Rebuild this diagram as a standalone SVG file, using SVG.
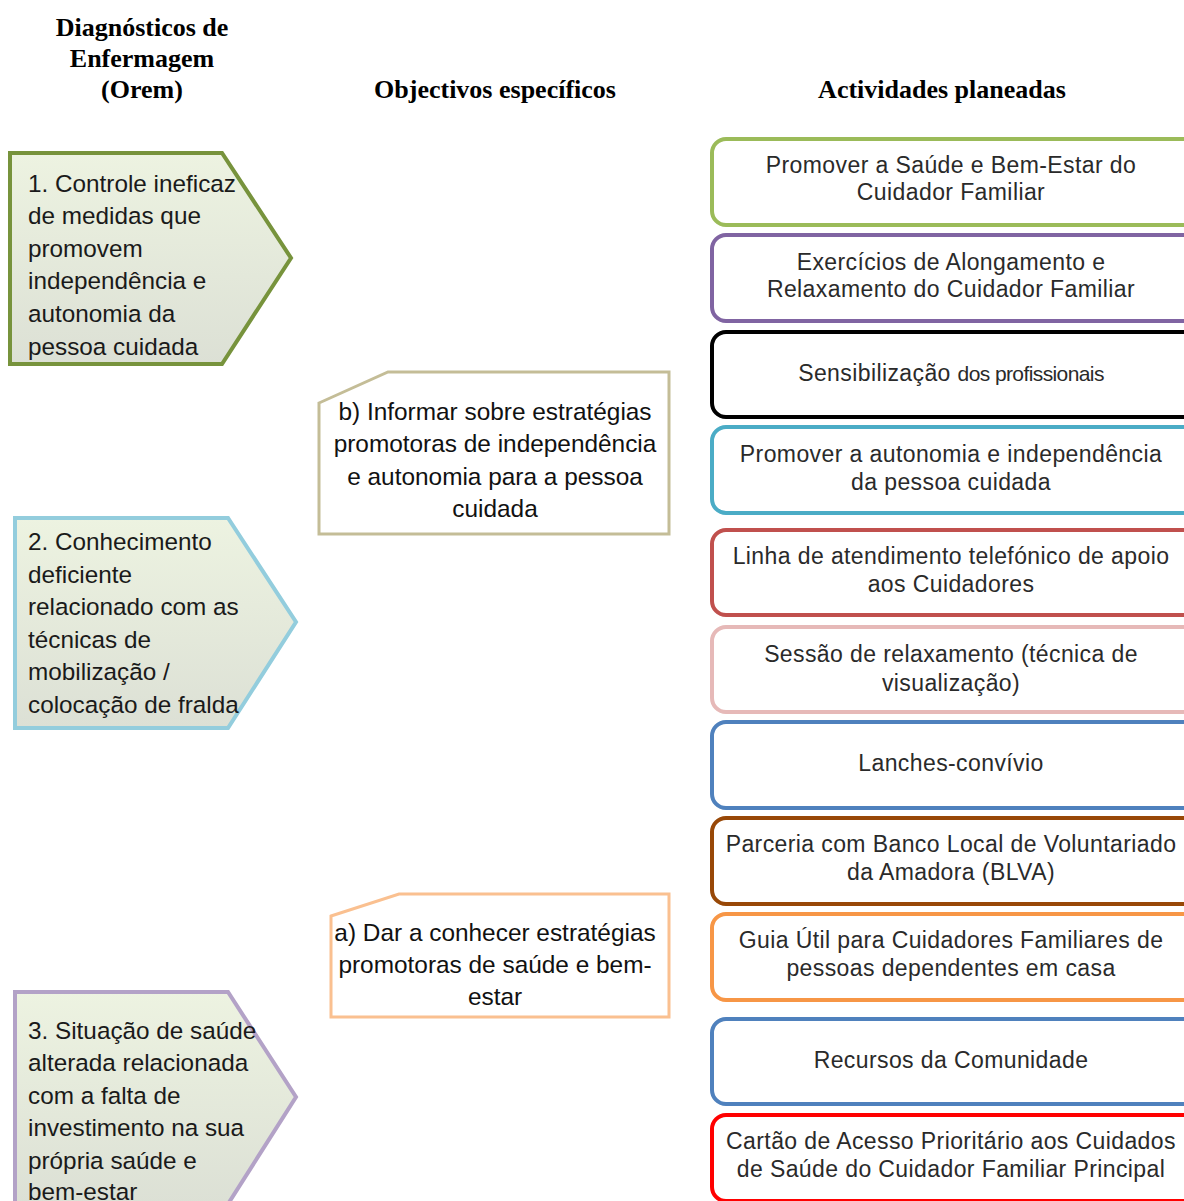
<svg xmlns="http://www.w3.org/2000/svg" width="1184" height="1201" viewBox="0 0 1184 1201">
<style>
.hdr{font-family:"Liberation Serif","Times New Roman",serif;font-weight:bold;font-size:26px;fill:#000;text-anchor:middle}
.lt{font-family:"Liberation Sans",Arial,sans-serif;font-size:24.3px;fill:#1a1a1a}
.ot{font-family:"Liberation Sans",Arial,sans-serif;font-size:24.4px;fill:#111;text-anchor:middle}
.rt{font-family:"Liberation Sans",Arial,sans-serif;font-size:23px;letter-spacing:0.4px;fill:#2a2a2a;text-anchor:middle}
.rb{fill:#fff;stroke-width:4}
.pent{stroke-width:4;fill:url(#pg)}
</style>
<defs>
<linearGradient id="pg" x1="0" y1="0" x2="0" y2="1">
<stop offset="0" stop-color="#EDF3E1"/>
<stop offset="1" stop-color="#DCE0D5"/>
</linearGradient>
</defs>
<rect width="1184" height="1201" fill="#fff"/>
<g id="headers">
<text class="hdr" x="142" y="36">Diagnósticos de</text>
<text class="hdr" x="142" y="67">Enfermagem</text>
<text class="hdr" x="142" y="98">(Orem)</text>
<text class="hdr" x="495" y="98">Objectivos específicos</text>
<text class="hdr" x="942" y="98">Actividades planeadas</text>
</g>
<g id="connectors"></g>
<g id="diag1">
<polygon class="pent" stroke="#77933C" points="10,153 222,153 291,258 222,364 10,364"/>
<text class="lt" x="28" y="192">1. Controle ineficaz</text>
<text class="lt" x="28" y="224">de medidas que</text>
<text class="lt" x="28" y="257">promovem</text>
<text class="lt" x="28" y="289">independência e</text>
<text class="lt" x="28" y="322">autonomia da</text>
<text class="lt" x="28" y="355">pessoa cuidada</text>
</g>
<g id="diag2">
<polygon class="pent" stroke="#93CDDD" points="15,518 228,518 296,622 228,728 15,728"/>
<text class="lt" x="28" y="550">2. Conhecimento</text>
<text class="lt" x="28" y="583">deficiente</text>
<text class="lt" x="28" y="615">relacionado com as</text>
<text class="lt" x="28" y="648">técnicas de</text>
<text class="lt" x="28" y="680">mobilização /</text>
<text class="lt" x="28" y="713">colocação de fralda</text>
</g>
<g id="diag3">
<polygon class="pent" stroke="#B3A2C7" points="15,992 228,992 296,1097 228,1204 15,1204"/>
<text class="lt" x="28" y="1039">3. Situação de saúde</text>
<text class="lt" x="28" y="1071">alterada relacionada</text>
<text class="lt" x="28" y="1104">com a falta de</text>
<text class="lt" x="28" y="1136">investimento na sua</text>
<text class="lt" x="28" y="1169">própria saúde e</text>
<text class="lt" x="28" y="1200">bem-estar</text>
</g>
<g id="objB">
<polygon fill="#fff" stroke="#C4BD97" stroke-width="3" points="319,403 388,372 669,372 669,534 319,534"/>
<text class="ot" x="495" y="420">b) Informar sobre estratégias</text>
<text class="ot" x="495" y="452">promotoras de independência</text>
<text class="ot" x="495" y="485">e autonomia para a pessoa</text>
<text class="ot" x="495" y="517">cuidada</text>
</g>
<g id="objA">
<polygon fill="#fff" stroke="#FAC090" stroke-width="3" points="331,916 399,894 669,894 669,1017 331,1017"/>
<text class="ot" x="495" y="941">a) Dar a conhecer estratégias</text>
<text class="ot" x="495" y="973">promotoras de saúde e bem-</text>
<text class="ot" x="495" y="1005">estar</text>
</g>
<g id="act1">
<rect class="rb" stroke="#9BBB59" x="712" y="139" width="500" height="86" rx="14"/>
<text class="rt" x="951" y="173">Promover a Saúde  e Bem-Estar do</text>
<text class="rt" x="951" y="200">Cuidador Familiar</text>
</g>
<g id="act2">
<rect class="rb" stroke="#8064A2" x="712" y="235" width="500" height="86" rx="14"/>
<text class="rt" x="951" y="270">Exercícios de Alongamento e</text>
<text class="rt" x="951" y="297">Relaxamento do Cuidador Familiar</text>
</g>
<g id="act3">
<rect class="rb" stroke="#000" stroke-width="5" x="712" y="332" width="500" height="85" rx="14"/>
<text class="rt" x="951" y="381">Sensibilização <tspan font-size="21px" letter-spacing="-0.6">dos profissionais</tspan></text>
</g>
<g id="act4">
<rect class="rb" stroke="#4BACC6" x="712" y="427" width="500" height="86" rx="14"/>
<text class="rt" x="951" y="462">Promover a autonomia e independência</text>
<text class="rt" x="951" y="490">da pessoa cuidada</text>
</g>
<g id="act5">
<rect class="rb" stroke="#C0504D" x="712" y="530" width="500" height="85" rx="14"/>
<text class="rt" x="951" y="564">Linha de atendimento telefónico de apoio</text>
<text class="rt" x="951" y="592">aos Cuidadores</text>
</g>
<g id="act6">
<rect class="rb" stroke="#E6B9B8" x="712" y="627" width="500" height="85" rx="14"/>
<text class="rt" x="951" y="662">Sessão de relaxamento (técnica de</text>
<text class="rt" x="951" y="691">visualização)</text>
</g>
<g id="act7">
<rect class="rb" stroke="#4F81BD" x="712" y="722" width="500" height="86" rx="14"/>
<text class="rt" x="951" y="771">Lanches-convívio</text>
</g>
<g id="act8">
<rect class="rb" stroke="#984807" x="712" y="818" width="500" height="86" rx="14"/>
<text class="rt" x="951" y="852">Parceria com Banco Local de Voluntariado</text>
<text class="rt" x="951" y="880">da Amadora (BLVA)</text>
</g>
<g id="act9">
<rect class="rb" stroke="#F79646" x="712" y="914" width="500" height="86" rx="14"/>
<text class="rt" x="951" y="948">Guia Útil para Cuidadores Familiares de</text>
<text class="rt" x="951" y="976">pessoas dependentes em casa</text>
</g>
<g id="act10">
<rect class="rb" stroke="#4F81BD" x="712" y="1019" width="500" height="85" rx="14"/>
<text class="rt" x="951" y="1068">Recursos da Comunidade</text>
</g>
<g id="act11">
<rect class="rb" stroke="#FF0000" x="712" y="1115" width="500" height="86" rx="14"/>
<text class="rt" x="951" y="1149">Cartão de Acesso Prioritário aos Cuidados</text>
<text class="rt" x="951" y="1177">de Saúde do Cuidador Familiar Principal</text>
</g>
</svg>
